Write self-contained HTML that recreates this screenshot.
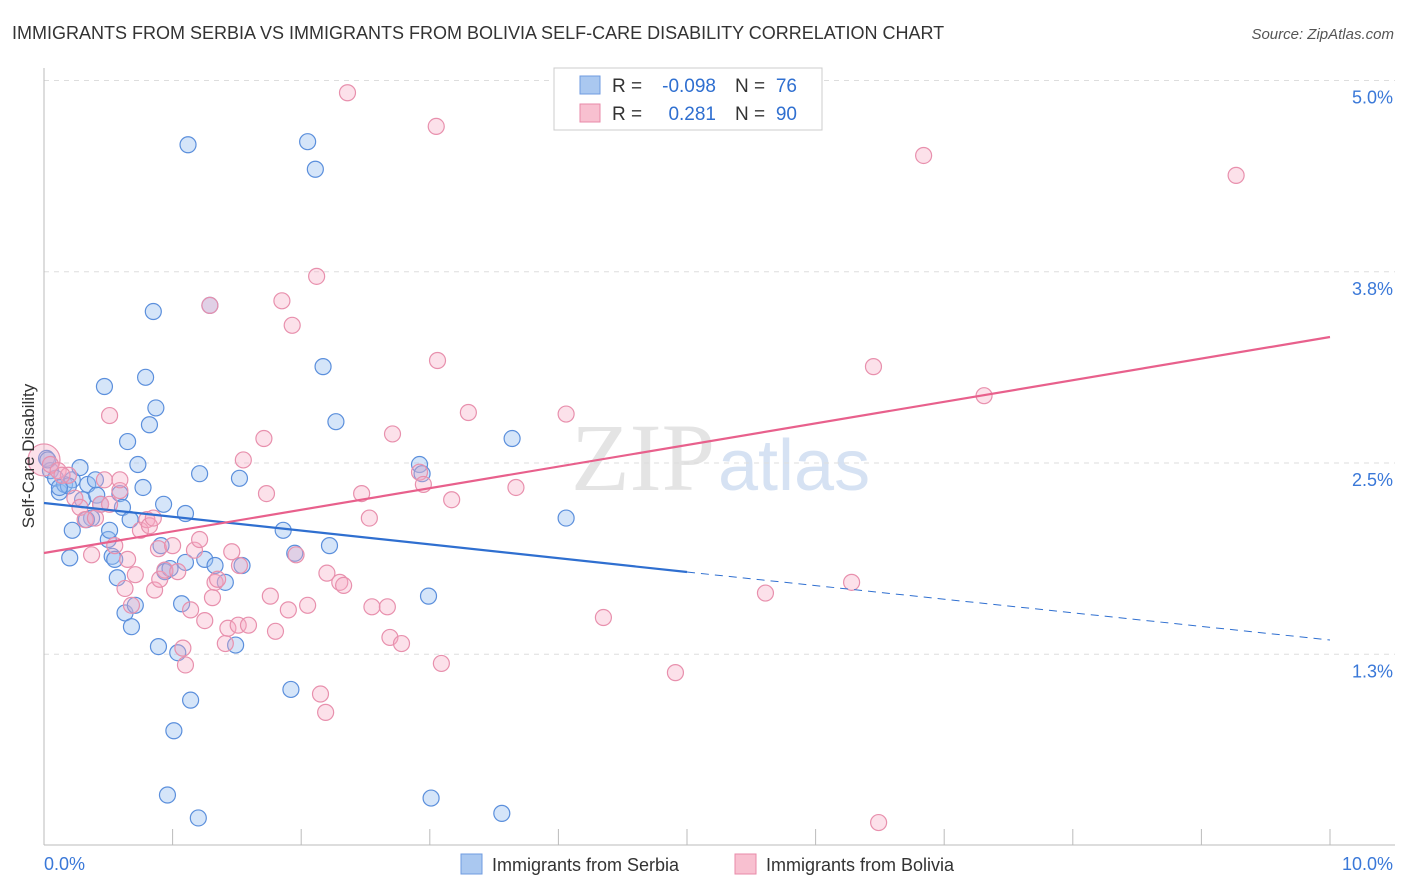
<!DOCTYPE html>
<html><head><meta charset="utf-8">
<style>
body{margin:0;background:#fff;font-family:"Liberation Sans",sans-serif;}
svg{display:block}
</style></head>
<body>
<svg id="chart" width="1406" height="892" xmlns="http://www.w3.org/2000/svg">
<text x="12" y="39" font-size="18" fill="#333" font-family="Liberation Sans">IMMIGRANTS FROM SERBIA VS IMMIGRANTS FROM BOLIVIA SELF-CARE DISABILITY CORRELATION CHART</text>
<text x="1394" y="39" font-size="15" fill="#555" text-anchor="end" font-style="italic">Source: ZipAtlas.com</text>
<text x="715" y="490" font-size="96" fill="#e4e4e4" text-anchor="end" font-family="Liberation Serif">ZIP</text>
<text x="718" y="490" font-size="72" fill="#d6e2f3">atlas</text>
<g id="grid"></g>
<g id="axes"></g>
<g id="pts"></g>
<g id="trends"></g>
<text transform="translate(34,456) rotate(-90)" font-size="17" fill="#333" text-anchor="middle">Self-Care Disability</text>
<g>
<rect x="554" y="68" width="268" height="62" fill="#fff" stroke="#ccc"/>
<rect x="580" y="76" width="20" height="18" fill="#aac8f0" stroke="#6f9be0"/>
<rect x="580" y="104" width="20" height="18" fill="#f8c0d0" stroke="#e88aa8"/>
<text x="612" y="92" font-size="19" fill="#333">R =</text>
<text x="716" y="92" font-size="19" fill="#2f6fd0" text-anchor="end">-0.098</text>
<text x="735" y="92" font-size="19" fill="#333">N =</text>
<text x="797" y="92" font-size="19" fill="#2f6fd0" text-anchor="end">76</text>
<text x="612" y="120" font-size="19" fill="#333">R =</text>
<text x="716" y="120" font-size="19" fill="#2f6fd0" text-anchor="end">0.281</text>
<text x="735" y="120" font-size="19" fill="#333">N =</text>
<text x="797" y="120" font-size="19" fill="#2f6fd0" text-anchor="end">90</text>
</g>
<g>
<rect x="461" y="854" width="21" height="20" fill="#aac8f0" stroke="#6f9be0"/>
<text x="492" y="871" font-size="18" fill="#333">Immigrants from Serbia</text>
<rect x="735" y="854" width="21" height="20" fill="#f8c0d0" stroke="#e88aa8"/>
<text x="766" y="871" font-size="18" fill="#333">Immigrants from Bolivia</text>
</g>
</svg>
<script>
const yTicks=[5.0,3.75,2.5,1.25];
const yTickLabels=["5.0%","3.8%","2.5%","1.3%"];
const xTickLabels=["0.0%","10.0%"];
const serbiaX=[0.02,0.05,0.09,0.12,0.16,0.22,0.28,0.30,0.34,0.37,0.41,0.44,0.47,0.50,0.51,0.53,0.55,0.57,0.59,0.61,0.63,0.65,0.67,0.68,0.71,0.73,0.77,0.79,0.82,0.85,0.87,0.89,0.91,0.93,0.94,0.96,0.98,1.01,1.04,1.07,1.10,1.12,1.14,1.20,1.21,1.25,1.29,1.33,1.41,1.49,1.52,1.54,1.86,1.92,1.95,2.05,2.11,2.17,2.22,2.27,2.92,2.94,2.99,3.01,3.56,3.64,4.06,0.22,0.20,0.40,1.10,0.03,0.19,0.33,0.12];
const serbiaY=[2.53,2.45,2.40,2.31,2.36,2.39,2.47,2.26,2.36,2.14,2.29,2.23,3.00,2.00,2.06,1.89,1.87,1.75,2.30,2.21,1.52,2.64,2.13,1.43,1.57,2.49,2.34,3.06,2.75,3.49,2.86,1.30,1.96,2.23,1.79,0.33,1.81,0.75,1.26,1.58,2.17,4.58,0.95,0.18,2.43,1.87,3.53,1.83,1.72,1.31,2.40,1.83,2.06,1.02,1.91,4.60,4.42,3.13,1.96,2.77,2.49,2.43,1.63,0.31,0.21,2.66,2.14,2.06,1.88,2.39,1.85,2.52,2.35,2.13,2.34];
const boliviaX=[0.00,0.05,0.11,0.19,0.24,0.28,0.32,0.37,0.44,0.47,0.51,0.55,0.59,0.63,0.65,0.68,0.71,0.75,0.80,0.82,0.86,0.89,0.90,0.94,1.00,1.04,1.08,1.10,1.14,1.17,1.21,1.25,1.29,1.31,1.33,1.35,1.41,1.43,1.46,1.51,1.52,1.55,1.59,1.71,1.73,1.76,1.80,1.85,1.90,1.93,1.96,2.05,2.12,2.15,2.19,2.20,2.30,2.33,2.36,2.47,2.53,2.55,2.67,2.69,2.71,2.78,2.92,2.95,3.05,3.06,3.09,3.17,3.30,3.67,4.06,4.35,4.91,5.61,6.28,6.45,6.49,6.84,7.31,9.27,0.59,0.85,0.14,0.40,0.51];
const boliviaY=[2.52,2.49,2.45,2.42,2.27,2.21,2.13,1.90,2.23,2.39,2.81,1.96,2.32,1.68,1.87,1.57,1.77,2.06,2.13,2.09,1.67,1.94,1.74,1.80,1.96,1.79,1.29,1.18,1.54,1.93,2.00,1.47,3.53,1.62,1.72,1.74,1.32,1.42,1.92,1.44,1.83,2.52,1.44,2.66,2.30,1.63,1.40,3.56,1.54,3.40,1.90,1.57,3.72,0.99,0.87,1.78,1.72,1.70,4.92,2.30,2.14,1.56,1.56,1.36,2.69,1.32,2.44,2.36,4.70,3.17,1.19,2.26,2.83,2.34,2.82,1.49,1.13,1.65,1.72,3.13,0.15,4.51,2.94,4.38,2.39,2.14,2.42,2.14,2.23];
const x0=44,x1=1330,yBase=463,yPer=153;
const X=v=>x0+(x1-x0)*v/10;
const Y=v=>yBase-(v-2.5)*yPer;
const NS="http://www.w3.org/2000/svg";
function mk(parent,tag,attrs){const e=document.createElementNS(NS,tag);for(const k in attrs)e.setAttribute(k,attrs[k]);document.getElementById(parent).appendChild(e);return e;}
yTicks.forEach((t,i)=>{
 const g=mk('grid','line',{x1:44,x2:1395,y1:Y(t),y2:Y(t),stroke:'#ddd','stroke-dasharray':'5,5'});
 
 
 const tx=mk('axes','text',{x:1393,y:Y(t)+23,'font-size':18,fill:'#3a78d8','text-anchor':'end'});
 tx.textContent=yTickLabels[i];
 
 
});
const ax=mk('axes','line',{x1:44,x2:44,y1:68,y2:845,stroke:'#bbb'});


const bx=mk('axes','line',{x1:44,x2:1395,y1:845,y2:845,stroke:'#bbb'});


for(let i=1;i<=10;i++){
 const t=mk('axes','line',{x1:X(i),x2:X(i),y1:829,y2:845,stroke:'#bbb'});
 
 
}
[[0,44,'start'],[1,1393,'end']].forEach(([i,x,a])=>{
 const t=mk('axes','text',{x:x,y:870,'font-size':18,fill:'#3a78d8','text-anchor':a});
 t.textContent=xTickLabels[i];
 
 
});
serbiaX.forEach((v,i)=>{
 const c=mk('pts','circle',{cx:X(v),cy:Y(serbiaY[i]),r:8,fill:'rgba(150,190,240,0.4)',stroke:'#5b8fdc','stroke-width':1.2});
 
 
});
boliviaX.forEach((v,i)=>{
 const c=mk('pts','circle',{cx:X(v),cy:Y(boliviaY[i]),r:i===0?16:8,fill:'rgba(245,170,195,0.35)',stroke:'#e890ad','stroke-width':1.2});
 
 
});
const s1=mk('trends','line',{x1:X(0),y1:503,x2:X(5),y2:572,stroke:'#2f6fd0','stroke-width':2.2});


const s2=mk('trends','line',{x1:X(5),y1:572,x2:X(10),y2:640,stroke:'#2f6fd0','stroke-width':1,'stroke-dasharray':'8,6'});


const b1=mk('trends','line',{x1:X(0),y1:553,x2:X(10),y2:337,stroke:'#e8608c','stroke-width':2.2});


</script>
</body></html>
